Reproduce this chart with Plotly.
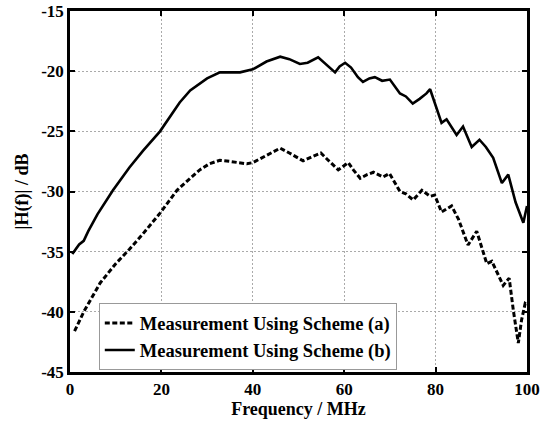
import plotly.graph_objects as go

# Measurement Using Scheme (a) - dashed
freq_a = [1, 3, 6.6, 10, 13, 16, 19.7, 23.4, 26.3, 28.4, 30.5, 32.8, 35, 38.7, 40, 43, 46, 48, 51, 53,
          54.9, 56.5, 58.7, 60.9, 62, 63.5, 65, 66.4, 68.5, 69.9, 71, 72.2, 73.5, 75.1, 77, 78.8, 79.8,
          81.3, 83.5, 85, 87.1, 89, 91.2, 92.3, 94.8, 96.1, 97, 98.1, 98.8, 99.6, 100]
h_a = [-41.6, -40.0, -37.6, -36.0, -34.8, -33.5, -31.8, -29.9, -28.9, -28.2, -27.7, -27.4, -27.5, -27.7,
       -27.6, -27.0, -26.4, -26.8, -27.45, -27.1, -26.8, -27.4, -28.2, -27.6, -28.2, -28.9, -28.6, -28.4,
       -28.8, -28.5, -29.2, -30.0, -30.2, -30.7, -29.9, -30.4, -30.3, -31.7, -31.2, -32.3, -34.45, -33.3,
       -36.0, -35.8, -37.8, -37.2, -39.85, -42.6, -40.7, -39.3, -39.4]

# Measurement Using Scheme (b) - solid
freq_b = [0.5, 1, 2, 3, 4, 6, 9.4, 13, 16, 19.7, 24, 26.3, 28.4, 30, 32.8, 37.2, 40, 43, 46, 48, 50.3, 52,
          54.3, 56, 58, 59, 60.2, 61.5, 63, 64.1, 65.5, 66.7, 68.3, 70, 72.2, 73.5, 75, 76.5, 78, 78.8, 80,
          81.3, 82.4, 83.5, 84.6, 86, 87.9, 89.6, 91, 92.6, 94.5, 95.9, 97.5, 99.2, 100]
h_b = [-35.2, -34.9, -34.4, -34.1, -33.3, -31.9, -29.9, -28.0, -26.6, -25.0, -22.6, -21.6, -21.0, -20.6,
       -20.1, -20.1, -19.85, -19.2, -18.8, -19.0, -19.4, -19.3, -18.85, -19.4, -20.1, -19.6, -19.3, -19.7,
       -20.5, -20.9, -20.6, -20.5, -20.8, -20.7, -21.85, -22.1, -22.7, -22.3, -21.85, -21.5, -22.8, -24.3,
       -24.0, -24.6, -25.3, -24.6, -26.3, -25.7, -26.3, -27.2, -29.3, -28.6, -30.9, -32.6, -31.2]

x_ticks = [0, 20, 40, 60, 80, 100]
y_ticks = [-45, -40, -35, -30, -25, -20, -15]

font_family = "Liberation Serif, Times New Roman, serif"

fig = go.Figure()
fig.add_trace(go.Scatter(x=freq_a, y=h_a, mode="lines", name="Measurement Using Scheme (a)",
                         line=dict(color="black", width=3, dash="5px,2.5px")))
fig.add_trace(go.Scatter(x=freq_b, y=h_b, mode="lines", name="Measurement Using Scheme (b)",
                         line=dict(color="black", width=2.6)))

axis_common = dict(
    showline=True, linecolor="black", linewidth=2.5, mirror="ticks",
    ticks="inside", ticklen=5, tickwidth=2, tickcolor="black",
    showgrid=True, gridcolor="#aaaaaa", gridwidth=1, griddash="2px,2px",
    zeroline=False, automargin=False,
    tickfont=dict(family=font_family, size=17, color="black", weight="bold"),
)

fig.update_xaxes(range=[0, 100], tickvals=x_ticks, ticktext=[str(v) for v in x_ticks],
                 title=dict(text="Frequency / MHz", font=dict(family=font_family, size=18, color="black", weight="bold"),
                            standoff=2),
                 **axis_common)
fig.update_yaxes(range=[-45, -15], tickvals=y_ticks, ticktext=[str(v) for v in y_ticks],
                 title=dict(text="|H(f)| / dB", font=dict(family=font_family, size=18, color="black", weight="bold"),
                            standoff=8),
                 **axis_common)

fig.update_layout(
    width=551, height=421,
    margin=dict(l=70, r=24, t=11, b=49),
    plot_bgcolor="white", paper_bgcolor="white",
    legend=dict(x=0.063, y=0.19, xanchor="left", yanchor="top",
                bgcolor="white", bordercolor="#999999", borderwidth=1,
                font=dict(family=font_family, size=18.5, color="black", weight="bold"),
                tracegroupgap=0, itemwidth=30),
    showlegend=True,
)

fig.write_html("out.html", config={"displayModeBar": False},
               post_script="document.body.style.margin='0';")
